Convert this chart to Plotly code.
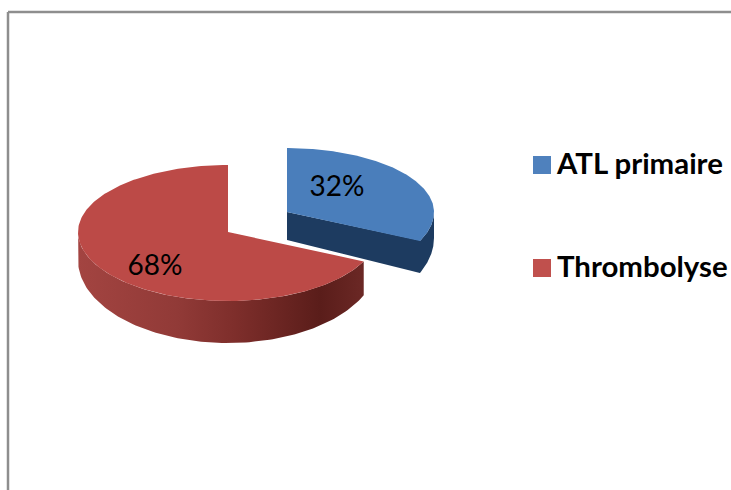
import numpy as np
import plotly.graph_objects as go

categories = ["ATL primaire", "Thrombolyse"]
values = [32, 68]
top_colors = ["#4A7EBB", "#BC4A47"]
legend_colors = ["#4F81BD", "#C0504D"]

# Pie geometry in page pixels (an oblique 3D pie, exploded)
CENTERS = [(287, 212), (228, 232)]
RX = [147, 150]
RY_BACK = [64, 67]
RY_FRONT = [68, 69]
DEPTH = [(26, 14), (28, 14)]
LABEL_POS = [(337, 189), (155, 268)]
LEGEND_Y = [167, 270]

fig = go.Figure()


def rim(i, a0, a1, drop=False, n=120):
    th = np.radians(np.linspace(a0, a1, n))
    cx, cy = CENTERS[i]
    c = np.cos(th)
    x = cx + RX[i] * np.sin(th)
    y = cy - np.where(c > 0, RY_BACK[i], RY_FRONT[i]) * c
    if drop:
        y = y + DEPTH[i][0] + DEPTH[i][1] * np.maximum(0, -c)
    return x, y


angles = np.cumsum([0] + values) * 3.6
starts, ends = angles[:-1], angles[1:]

# walls: blue slice (cut face + short outer arc)
cx, cy = CENTERS[0]
xa, ya = rim(0, 90, ends[0])
xb, yb = rim(0, 90, ends[0], drop=True)
d0 = DEPTH[0][0] + 2
fig.add_trace(go.Scatter(
    x=[cx] + list(xa[::-1]) + list(xb) + [cx, cx],
    y=[cy] + list(ya[::-1]) + list(yb) + [cy + d0, cy],
    mode="lines", line=dict(width=0), fill="toself",
    fillcolor="#1D3B60", hoverinfo="skip", showlegend=False))

# walls: red slice (front outer arc with shading)
xa, ya = rim(1, starts[1], 272)
xb, yb = rim(1, starts[1], 272, drop=True)
fig.add_trace(go.Scatter(
    x=list(xa) + list(xb[::-1]) + [xa[0]],
    y=list(ya) + list(yb[::-1]) + [ya[0]],
    mode="lines", line=dict(width=0), fill="toself",
    fillgradient=dict(
        type="horizontal", start=78, stop=363,
        colorscale=[[0, "#A34441"], [0.35, "#913A37"], [0.55, "#7E2E2B"],
                    [0.85, "#5A1D1A"], [1, "#6B2825"]]),
    hoverinfo="skip", showlegend=False))

# top faces
for i in range(2):
    x, y = rim(i, starts[i], ends[i], n=240)
    cx, cy = CENTERS[i]
    fig.add_trace(go.Scatter(
        x=[cx] + list(x) + [cx], y=[cy] + list(y) + [cy],
        mode="lines", line=dict(width=0), fill="toself",
        fillcolor=top_colors[i], name=categories[i],
        hoverinfo="skip", showlegend=False))

# percentage labels
fig.add_trace(go.Scatter(
    x=[p[0] for p in LABEL_POS], y=[p[1] for p in LABEL_POS],
    mode="text", text=[f"{v}%" for v in values],
    textposition="middle center",
    textfont=dict(family="Lato", size=28, color="#000000"),
    hoverinfo="skip", showlegend=False))

# legend
fig.add_trace(go.Scatter(
    x=[542, 542], y=[165, 268], mode="markers",
    marker=dict(symbol="square", size=18, color=legend_colors, line=dict(width=0)),
    hoverinfo="skip", showlegend=False))
fig.add_trace(go.Scatter(
    x=[557, 557], y=LEGEND_Y, mode="text", text=categories,
    textposition="middle right",
    textfont=dict(family="Lato", size=29.4, color="#000000", weight=700),
    hoverinfo="skip", showlegend=False))

# frame
frame = dict(type="line", xref="x", yref="y", line=dict(color="#8E8E8E", width=2.5))
fig.add_shape(x0=8, x1=731, y0=12, y1=12, **frame)
fig.add_shape(x0=8, x1=8, y0=12, y1=490, **frame)

fig.update_layout(
    width=731, height=490, margin=dict(l=0, r=0, t=0, b=0),
    paper_bgcolor="#FFFFFF", plot_bgcolor="#FFFFFF",
    xaxis=dict(range=[0, 731], visible=False, fixedrange=True),
    yaxis=dict(range=[490, 0], visible=False, fixedrange=True),
)
fig.write_html("out.html", config={"displayModeBar": False},
               post_script="document.body.style.margin='0';document.body.style.overflow='hidden';")
